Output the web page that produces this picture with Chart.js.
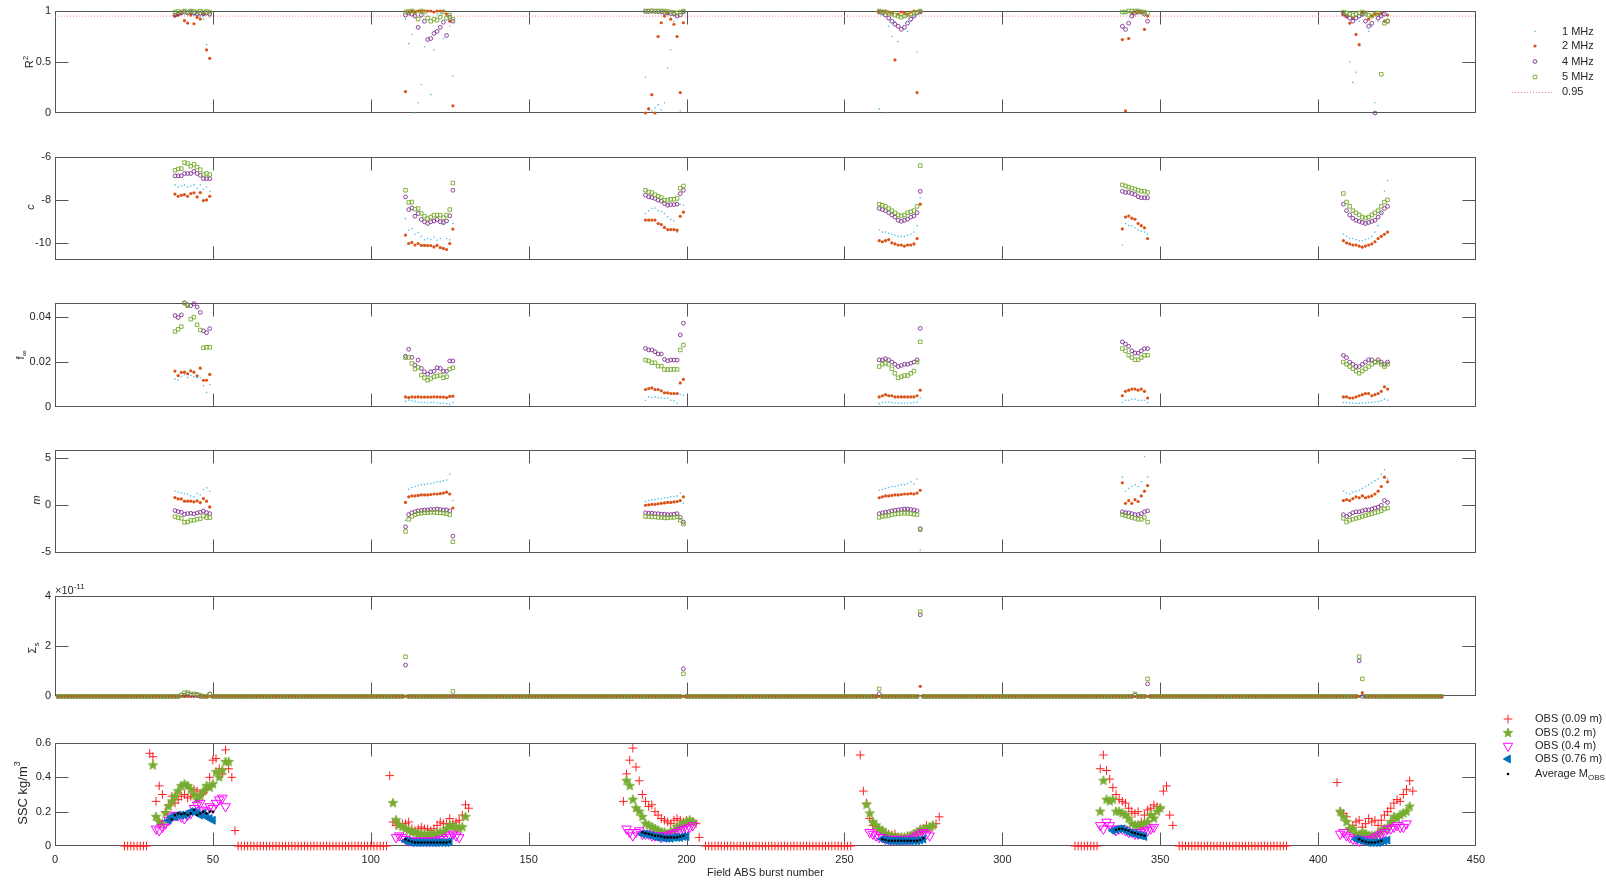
<!DOCTYPE html>
<html><head><meta charset="utf-8">
<script src="https://cdn.jsdelivr.net/npm/chart.js@4.4.1/dist/chart.umd.min.js"></script>
<style>
html,body{margin:0;padding:0;background:#fff;width:1606px;height:883px;overflow:hidden;}
.p{position:absolute;left:0;}
</style></head><body>
<script>
// ---------------- DATA ----------------
const xMin = 0, xMax = 450;
const xTicks = [0, 50, 100, 150, 200, 250, 300, 350, 400, 450];
const r2Ticks = [0, 0.5, 1];
const cTicks = [-10, -8, -6];
const fTicks = [0, 0.02, 0.04];
const mTicks = [-5, 0, 5];
const sigmaTicks = [0, 2, 4];          // units of 1e-11
const sscTicks = [0, 0.2, 0.4, 0.6];
const r2Threshold = 0.95;

// first burst of each inversion cluster (values follow consecutively)
const clusterStarts = [38, 111, 187, 261, 338, 408];

const r2_1MHz = [
 [0.97,0.98,0.97,0.99,0.97,0.98,0.96,0.97,0.95,0.92,0.67,0.94],
 [0.92,0.68,0.77,0.0,0.1,0.28,0.65,0.95,0.18,0.62,0.97,0.97,0.73,0.96,0.85,0.36],
 [0.35,0.05,0.02,0.05,0.08,0.03,0.1,0.44,0.62,0.9,0.97,0.02,0.98],
 [0.04,0.97,0.0,0.85,0.75,0.9,0.7,0.95,0.97,0.8,0.9,0.95,0.6,0.98],
 [0.97,0.98,0.99,0.99,1.0,0.99,0.98,0.97,0.95],
 [0.98,0.95,0.5,0.3,0.4,0.9,0.95,0.97,0.8,0.85,0.1,0.9,0.95,0.97,0.92]];
const r2_2MHz = [
 [0.95,0.96,0.975,0.905,0.882,0.96,0.875,0.938,0.922,0.968,0.618,0.536],
 [0.21,0.99,1.0,0.99,1.0,1.0,1.0,1.0,1.0,0.99,1.0,1.0,1.0,0.97,0.9,0.07],
 [0.0,0.04,0.18,0.0,0.75,0.885,0.95,0.98,0.92,0.87,0.75,0.2,0.885],
 [0.99,1.0,1.0,0.99,0.98,0.52,0.97,0.99,0.98,0.97,0.99,1.0,0.2,0.99],
 [0.72,0.02,0.73,0.98,0.99,0.99,0.99,0.82,0.95],
 [0.97,0.95,0.88,0.93,0.77,0.67,0.98,0.99,0.92,0.95,0.97,0.97,0.98,0.9,0.96]];
const r2_4MHz = [
 [0.96,0.97,0.98,0.99,0.98,0.99,0.98,0.97,0.98,0.97,0.98,0.97],
 [0.96,0.98,0.97,0.95,0.84,0.96,0.9,0.72,0.73,0.78,0.8,0.84,0.89,0.76,0.94,0.9],
 [0.995,0.995,1.0,0.995,0.995,0.99,0.985,0.98,0.975,0.97,0.95,0.96,0.99],
 [0.99,0.98,0.96,0.93,0.9,0.87,0.85,0.82,0.84,0.88,0.92,0.95,0.98,0.99],
 [0.85,0.82,0.88,0.95,0.98,0.99,0.99,0.97,0.9],
 [0.97,0.95,0.93,0.9,0.93,0.95,0.97,0.9,0.85,0.88,0.0,0.93,0.95,0.97,0.9]];
const r2_5MHz = [
 [0.99,0.995,0.99,1.0,0.99,1.0,0.995,0.99,1.0,0.99,0.995,0.99],
 [0.99,0.995,1.0,0.99,0.92,1.0,0.99,0.93,0.9,0.92,0.91,0.94,0.99,0.93,0.96,0.92],
 [1.0,1.0,1.0,1.0,1.0,1.0,1.0,0.995,0.99,0.985,0.98,0.99,1.0],
 [1.0,0.99,0.99,0.98,0.97,0.96,0.95,0.94,0.95,0.96,0.97,0.98,0.99,1.0],
 [0.99,0.99,1.0,1.0,1.0,1.0,0.99,0.99,0.98],
 [0.99,0.98,0.97,0.96,0.97,0.98,0.99,0.97,0.96,0.95,0.97,0.98,0.38,0.88,0.9]];

const c_1MHz = [
 [-7.3,-7.4,-7.35,-7.3,-7.4,-7.35,-7.3,-7.45,-7.3,-7.5,-7.4,-7.6],
 [-8.87,-9.41,-9.33,-9.6,-9.53,-9.7,-9.86,-9.8,-9.85,-9.74,-9.88,-9.8,-9.1,-9.8,-9.86,-9.1],
 [-8.63,-8.51,-8.4,-8.38,-8.51,-8.55,-8.63,-8.79,-8.91,-8.98,-9.5,-8.2,-8.25],
 [-9.4,-9.5,-9.5,-9.55,-9.6,-9.65,-9.7,-9.7,-9.7,-9.65,-9.6,-9.5,-9.2,-7.9],
 [-10.1,-9.1,-9.2,-9.2,-9.3,-9.4,-9.45,-9.5,-9.6],
 [-9.6,-9.7,-9.8,-9.8,-9.85,-9.9,-9.9,-9.85,-9.8,-9.7,-9.5,-9.2,-8.6,-7.6,-7.1]];
const c_2MHz = [
 [-7.73,-7.83,-7.78,-7.75,-7.83,-7.7,-7.67,-7.86,-7.66,-8.03,-8.0,-7.83],
 [-9.64,-10.03,-9.98,-10.1,-10.03,-10.12,-10.12,-10.13,-10.13,-10.19,-10.12,-10.22,-10.26,-10.31,-10.03,-9.36],
 [-8.94,-8.94,-8.94,-8.94,-9.1,-9.15,-9.28,-9.38,-9.38,-9.38,-9.41,-8.76,-8.57],
 [-9.9,-9.95,-9.9,-9.85,-10.0,-10.05,-10.1,-10.1,-10.15,-10.1,-10.1,-10.05,-9.8,-8.2],
 [-9.35,-8.8,-8.75,-8.85,-8.9,-9.1,-9.2,-9.3,-9.8],
 [-9.9,-10.0,-10.05,-10.1,-10.1,-10.15,-10.2,-10.15,-10.1,-10.05,-9.95,-9.8,-9.7,-9.6,-9.5]];
const c_4MHz = [
 [-6.88,-6.88,-6.88,-6.77,-6.77,-6.77,-6.67,-6.77,-6.85,-7.01,-7.01,-7.01],
 [-7.86,-8.45,-8.37,-8.76,-8.63,-8.91,-9.02,-9.1,-9.02,-8.98,-8.91,-9.02,-9.06,-8.98,-8.74,-7.55],
 [-7.78,-7.86,-7.89,-7.93,-8.01,-8.05,-8.17,-8.25,-8.22,-8.22,-8.2,-7.71,-7.55],
 [-8.4,-8.45,-8.5,-8.6,-8.7,-8.8,-8.95,-9.0,-8.95,-8.9,-8.8,-8.75,-8.6,-7.6],
 [-7.6,-7.65,-7.65,-7.7,-7.75,-7.85,-7.9,-7.9,-7.9],
 [-8.2,-8.5,-8.7,-8.85,-8.95,-9.0,-9.05,-9.1,-9.05,-9.0,-8.95,-8.8,-8.6,-8.4,-8.3]];
const c_5MHz = [
 [-6.62,-6.56,-6.54,-6.26,-6.31,-6.43,-6.34,-6.47,-6.59,-6.82,-6.77,-6.82],
 [-7.55,-8.12,-8.1,-8.43,-8.4,-8.63,-8.76,-8.87,-8.8,-8.71,-8.7,-8.71,-8.83,-8.71,-8.45,-7.21],
 [-7.55,-7.63,-7.66,-7.76,-7.83,-7.89,-8.01,-8.01,-7.97,-7.97,-7.93,-7.46,-7.35],
 [-8.2,-8.25,-8.3,-8.4,-8.5,-8.6,-8.7,-8.75,-8.7,-8.6,-8.55,-8.5,-8.3,-6.4],
 [-7.3,-7.35,-7.4,-7.45,-7.5,-7.55,-7.6,-7.6,-7.65],
 [-7.7,-8.1,-8.3,-8.5,-8.6,-8.7,-8.8,-8.85,-8.8,-8.7,-8.6,-8.5,-8.3,-8.1,-8.0]];

const f_1MHz = [
 [0.0125,0.012,0.0135,0.0145,0.0131,0.014,0.0135,0.013,0.013,0.0095,0.0064,0.010],
 [0.0025,0.003,0.0028,0.0025,0.0022,0.002,0.002,0.0018,0.002,0.002,0.0018,0.0016,0.0018,0.0015,0.0012,0.002],
 [0.003,0.0045,0.0042,0.0045,0.0041,0.0041,0.0039,0.0039,0.003,0.0028,0.0017,0.0057,0.0052],
 [0.0015,0.002,0.0022,0.0022,0.002,0.0018,0.0018,0.0017,0.0018,0.0018,0.0018,0.002,0.0022,0.004],
 [0.002,0.003,0.003,0.0035,0.0035,0.003,0.003,0.003,0.002],
 [0.002,0.002,0.0018,0.0018,0.0016,0.0016,0.0017,0.0018,0.002,0.002,0.0022,0.0024,0.0028,0.0035,0.003]];
const f_2MHz = [
 [0.016,0.014,0.0154,0.0155,0.0148,0.0161,0.0155,0.0139,0.0173,0.0119,0.0119,0.0145],
 [0.0045,0.0042,0.0045,0.0044,0.0045,0.0044,0.0044,0.0044,0.0044,0.0045,0.0045,0.0044,0.0044,0.0042,0.0047,0.0048],
 [0.0078,0.0082,0.0085,0.0078,0.0078,0.0072,0.0063,0.0063,0.006,0.006,0.006,0.0107,0.0123],
 [0.0045,0.005,0.0055,0.005,0.005,0.0045,0.0045,0.0045,0.0045,0.0045,0.0045,0.0045,0.005,0.0075],
 [0.005,0.007,0.0075,0.008,0.008,0.0075,0.008,0.007,0.004],
 [0.0045,0.0045,0.004,0.004,0.0045,0.005,0.0055,0.006,0.006,0.005,0.0055,0.006,0.007,0.009,0.008]];
const f_4MHz = [
 [0.0407,0.0398,0.041,0.0463,0.0455,0.0451,0.046,0.0445,0.0421,0.0339,0.0331,0.0349],
 [0.0226,0.0257,0.0221,0.0187,0.0209,0.0172,0.0157,0.0146,0.0157,0.0159,0.0175,0.0172,0.0159,0.0159,0.0205,0.0205],
 [0.0261,0.0254,0.0254,0.0246,0.0236,0.0236,0.0212,0.0206,0.0209,0.0209,0.0209,0.0321,0.0373],
 [0.021,0.021,0.0215,0.021,0.02,0.019,0.018,0.0185,0.019,0.019,0.0195,0.02,0.021,0.035],
 [0.029,0.028,0.027,0.025,0.024,0.024,0.025,0.026,0.026],
 [0.023,0.022,0.02,0.019,0.018,0.018,0.019,0.02,0.021,0.021,0.02,0.021,0.02,0.019,0.02]];
const f_5MHz = [
 [0.0336,0.0346,0.0358,0.0463,0.0451,0.0391,0.04,0.0366,0.0343,0.0264,0.0266,0.0266],
 [0.022,0.0221,0.0194,0.0169,0.0176,0.0142,0.013,0.0119,0.0127,0.0135,0.0138,0.0142,0.013,0.0135,0.0169,0.0175],
 [0.0209,0.0205,0.0197,0.0197,0.0182,0.0182,0.0167,0.0167,0.0167,0.0168,0.0167,0.0254,0.0276],
 [0.018,0.019,0.0195,0.019,0.017,0.015,0.013,0.0135,0.014,0.014,0.015,0.016,0.02,0.029],
 [0.026,0.025,0.023,0.022,0.021,0.021,0.022,0.023,0.023],
 [0.02,0.019,0.018,0.017,0.016,0.015,0.016,0.017,0.018,0.019,0.02,0.02,0.019,0.018,0.019]];

const m_1MHz = [
 [1.5,1.4,1.3,1.25,1.2,1.0,0.89,1.25,1.1,1.68,1.86,1.5],
 [-1.6,1.7,1.9,2.0,2.1,2.2,2.2,2.3,2.3,2.4,2.5,2.5,2.6,2.7,3.3,0.5],
 [0.4,0.5,0.6,0.6,0.7,0.7,0.8,0.8,0.9,0.9,1.0,1.3,0.2],
 [1.6,1.7,1.8,1.9,2.0,2.0,2.1,2.2,2.2,2.3,2.5,2.3,2.8,-4.8],
 [3.0,1.5,1.8,2.0,2.2,2.0,2.5,5.2,3.0],
 [1.5,1.3,1.2,1.4,1.5,1.6,1.8,2.0,2.2,2.4,2.6,2.8,3.3,3.8,2.8]];
const m_2MHz = [
 [0.82,0.68,0.68,0.43,0.43,0.43,0.36,0.46,0.29,0.71,0.43,-0.18],
 [0.3,0.9,1.0,1.0,1.05,1.1,1.1,1.1,1.15,1.2,1.2,1.25,1.3,1.4,1.2,-0.3],
 [0.0,0.05,0.1,0.1,0.15,0.2,0.25,0.3,0.3,0.35,0.4,0.5,0.9],
 [0.8,0.9,1.0,1.0,1.05,1.1,1.1,1.15,1.2,1.2,1.25,1.2,1.3,1.6],
 [2.4,0.2,0.5,0.2,0.6,0.4,1.0,1.5,2.1],
 [0.5,0.6,0.5,0.7,0.9,0.8,1.0,0.8,0.9,1.0,1.2,1.5,2.0,3.0,2.5]];
const m_4MHz = [
 [-0.57,-0.68,-0.75,-0.96,-0.89,-0.86,-0.93,-0.82,-0.75,-0.61,-0.79,-0.89],
 [-2.3,-1.0,-0.8,-0.7,-0.6,-0.55,-0.5,-0.5,-0.45,-0.45,-0.4,-0.45,-0.5,-0.5,-0.6,-3.3],
 [-0.8,-0.85,-0.85,-0.9,-0.9,-0.95,-0.95,-1.0,-1.0,-0.95,-0.9,-1.3,-1.8],
 [-0.9,-0.8,-0.75,-0.7,-0.6,-0.55,-0.5,-0.45,-0.4,-0.4,-0.45,-0.5,-0.6,-2.5],
 [-0.7,-0.8,-0.8,-0.9,-1.0,-1.0,-0.9,-0.7,-0.6],
 [-1.0,-1.2,-1.0,-0.8,-0.7,-0.7,-0.6,-0.5,-0.5,-0.4,-0.3,-0.2,0.0,0.5,0.3]];
const m_5MHz = [
 [-1.21,-1.32,-1.39,-1.82,-1.78,-1.61,-1.61,-1.5,-1.43,-1.14,-1.32,-1.32],
 [-2.8,-1.5,-1.2,-1.0,-0.9,-0.85,-0.8,-0.8,-0.75,-0.75,-0.8,-0.8,-0.85,-0.9,-1.0,-3.9],
 [-1.2,-1.2,-1.25,-1.25,-1.3,-1.3,-1.35,-1.35,-1.3,-1.3,-1.2,-1.6,-2.0],
 [-1.3,-1.2,-1.15,-1.1,-1.0,-0.95,-0.9,-0.85,-0.85,-0.85,-0.9,-0.95,-1.0,-2.6],
 [-1.0,-1.1,-1.2,-1.3,-1.4,-1.5,-1.5,-1.3,-1.8],
 [-1.4,-1.8,-1.6,-1.5,-1.4,-1.3,-1.2,-1.1,-1.0,-0.9,-0.8,-0.7,-0.6,-0.4,-0.3]];

// Sigma_s (x 1e-11) in the clusters; every other burst in sigmaZeroRange is 0
const sigmaZeroRange = [1, 439];
const s_1MHz = [
 [0,0,0,0,0,0,0,0,0,0,0,0],
 [0,0,0,0,0,0,0,0,0,0,0,0,0,0,0,0],
 [0,0,0,0,0,0,0,0,0,0,0,0,0],
 [0,0,0,0,0,0,0,0,0,0,0,0,0,0],
 [0,0,0,0,0,0,0,0,0],
 [0,0,0,0,0,0,0,0,0,0,0,0,0,0,0]];
const s_2MHz = [
 [0,0,0,0,0,0,0,0,0,0,0,0],
 [0,0,0,0,0,0,0,0,0,0,0,0,0,0,0,0],
 [0,0,0,0,0,0,0,0,0,0,0,0,0],
 [0,0,0,0,0,0,0,0,0,0,0,0,0,0.4],
 [0,0,0,0,0,0,0,0,0],
 [0,0,0,0,0,0,0.15,0,0,0,0,0,0,0,0]];
const s_4MHz = [
 [0,0,0.05,0.05,0.1,0.05,0.05,0.05,0,0,0,0.1],
 [1.25,0,0,0,0,0,0,0,0,0,0,0,0,0,0,0],
 [0,0,0,0,0,0,0,0,0,0,0,0,1.1],
 [0.1,0,0,0,0,0,0,0,0,0,0,0,0,3.25],
 [0,0,0,0,0.05,0,0,0,0.5],
 [0,0,0,0,0,1.42,0,0,0,0,0,0,0,0,0]];
const s_5MHz = [
 [0,0,0.05,0.15,0.15,0.1,0.1,0.08,0.05,0,0,0.08],
 [1.58,0,0,0,0,0,0,0,0,0,0,0,0,0,0,0.2],
 [0,0,0,0,0,0,0,0,0,0,0,0,0.9],
 [0.3,0,0,0,0,0,0,0,0,0,0,0,0,3.37],
 [0,0,0,0,0.1,0,0,0,0.7],
 [0,0,0,0,0,1.58,0.7,0,0,0,0,0,0,0,0]];

// SSC (kg/m3)
const obs009Starts = [30, 106, 180, 255, 331, 406];
const obs009Values = [
 [0.54,0.52,0.26,0.35,0.30,0.20,0.24,0.29,0.25,0.27,0.29,0.30,0.28,0.29,0.33,0.32,0.30,0.31,0.33,0.40,0.50,0.51,0.45,0.42,0.56,0.45,0.40,0.09],
 [0.41,0.14,0.12,0.13,0.13,0.13,0.14,0.10,0.09,0.10,0.11,0.10,0.10,0.09,0.10,0.12,0.14,0.13,0.13,0.16,0.13,0.14,0.15,0.18,0.24,0.22],
 [0.26,0.42,0.50,0.57,0.46,0.38,0.30,0.26,0.23,0.24,0.20,0.18,0.16,0.15,0.14,0.13,0.15,0.16,0.15,0.14,0.15,0.14,0.14,0.13,0.05],
 [0.53,0.32,0.25,0.16,0.12,0.11,0.10,0.09,0.08,0.07,0.06,0.07,0.05,0.05,0.05,0.06,0.05,0.06,0.07,0.10,0.09,0.12,0.11,0.11,0.13,0.17],
 [0.45,0.53,0.44,0.39,0.34,0.30,0.27,0.26,0.25,0.22,0.20,0.19,0.20,0.14,0.18,0.21,0.22,0.24,0.23,0.22,0.32,0.35,0.18,0.12],
 [0.37,0.20,0.19,0.17,0.10,0.12,0.14,0.15,0.11,0.13,0.16,0.14,0.15,0.12,0.15,0.18,0.20,0.22,0.25,0.27,0.26,0.30,0.33,0.38,0.32]];
const obs009ZeroRanges = [[22, 29], [58, 105], [206, 252], [323, 330], [356, 390]];

const obs02Starts = [31, 107, 181, 257, 331, 407];
const obs02Values = [
 [0.47,0.17,0.14,0.13,0.19,0.23,0.26,0.29,0.32,0.35,0.36,0.35,0.33,0.30,0.27,0.29,0.32,0.35,0.34,0.36,0.43,0.40,0.44,0.49,0.49],
 [0.25,0.15,0.12,0.11,0.10,0.09,0.08,0.08,0.07,0.07,0.07,0.06,0.07,0.07,0.07,0.08,0.08,0.10,0.12,0.11,0.11,0.10,0.11,0.17],
 [0.38,0.35,0.27,0.22,0.20,0.17,0.13,0.12,0.11,0.10,0.09,0.08,0.08,0.07,0.08,0.09,0.11,0.12,0.13,0.14,0.15,0.14],
 [0.24,0.19,0.14,0.12,0.10,0.09,0.07,0.06,0.06,0.05,0.05,0.05,0.05,0.05,0.06,0.07,0.08,0.09,0.10,0.10,0.11,0.12],
 [0.20,0.38,0.27,0.26,0.27,0.20,0.20,0.19,0.18,0.16,0.13,0.12,0.12,0.12,0.13,0.14,0.18,0.16,0.20,0.22],
 [0.20,0.17,0.14,0.10,0.10,0.07,0.06,0.08,0.07,0.06,0.06,0.06,0.07,0.09,0.10,0.11,0.14,0.17,0.16,0.18,0.19,0.20,0.23]];

const obs04Starts = [32, 108, 181, 258, 331, 407];
const obs04Values = [
 [0.10,0.09,0.11,0.13,0.15,0.17,0.18,0.18,0.17,0.16,0.18,0.19,0.22,0.24,0.25,0.21,0.20,0.23,0.22,0.25,0.27,0.28,0.23],
 [0.05,0.06,0.05,0.04,0.03,0.03,0.03,0.03,0.03,0.03,0.03,0.03,0.03,0.03,0.04,0.04,0.05,0.06,0.07,0.06,0.05],
 [0.10,0.08,0.06,0.08,0.09,0.07,0.07,0.07,0.06,0.06,0.06,0.05,0.06,0.06,0.07,0.07,0.08,0.09,0.10,0.10,0.11,0.12],
 [0.08,0.07,0.06,0.05,0.05,0.04,0.04,0.04,0.04,0.04,0.04,0.04,0.04,0.04,0.05,0.06,0.07,0.08,0.07,0.06],
 [0.12,0.10,0.14,0.12,0.10,0.09,0.10,0.10,0.09,0.08,0.08,0.07,0.07,0.08,0.09,0.09,0.10,0.11],
 [0.07,0.08,0.06,0.05,0.04,0.04,0.03,0.04,0.04,0.03,0.04,0.05,0.06,0.07,0.08,0.10,0.10,0.11,0.12,0.11,0.11,0.13]];

const obs076Starts = [36, 111, 186, 262, 335, 412];
const obs076Values = [
 [0.15,0.17,0.17,0.18,0.18,0.18,0.19,0.20,0.20,0.19,0.18,0.19,0.17,0.16,0.15],
 [0.03,0.025,0.02,0.02,0.02,0.02,0.02,0.02,0.02,0.02,0.02,0.02,0.02,0.02,0.025],
 [0.07,0.07,0.065,0.06,0.055,0.05,0.05,0.045,0.045,0.045,0.05,0.05,0.05,0.055,0.055],
 [0.04,0.035,0.03,0.03,0.03,0.03,0.03,0.03,0.03,0.03,0.03,0.03,0.035,0.04],
 [0.09,0.095,0.10,0.10,0.09,0.08,0.075,0.07,0.065,0.06,0.055],
 [0.04,0.035,0.03,0.025,0.02,0.02,0.02,0.02,0.025,0.03,0.035]];

const avgMStarts = [37, 111, 186, 262, 336, 413];
const avgMValues = [
 [0.155,0.18,0.19,0.185,0.19,0.18,0.19,0.21,0.18,0.19,0.20,0.19,0.20,0.20],
 [0.04,0.03,0.025,0.02,0.02,0.02,0.02,0.02,0.02,0.02,0.02,0.02,0.02,0.02,0.025],
 [0.08,0.075,0.07,0.065,0.06,0.06,0.055,0.05,0.05,0.05,0.05,0.05,0.055,0.06],
 [0.04,0.035,0.03,0.03,0.03,0.03,0.03,0.03,0.03,0.03,0.03,0.03,0.035,0.045],
 [0.095,0.10,0.10,0.095,0.09,0.08,0.075,0.07,0.065,0.06],
 [0.04,0.03,0.025,0.02,0.02,0.02,0.025,0.03]];

// ---------------- RENDERING ----------------
const FONT = '"Liberation Sans", Arial, Helvetica, sans-serif';
const TEXT = '#262626';
const AXIS = '#555555';
const W = 1606, PLOT_LEFT = 55, PLOT_RIGHT = 1476, TICK = 13;
Chart.defaults.font.family = FONT;
Chart.defaults.font.size = 11;
Chart.defaults.color = TEXT;

function clusterPoints(starts, values) {
  const pts = [];
  values.forEach((arr, k) => arr.forEach((v, i) => { if (v !== null) pts.push({x: starts[k] + i, y: v}); }));
  return pts;
}
function zeroPoints(ranges) {
  const pts = [];
  ranges.forEach(([a, b]) => { for (let x = a; x <= b; x++) pts.push({x, y: 0}); });
  return pts;
}
function sigmaPoints(values) {
  const pts = clusterPoints(clusterStarts, values);
  const covered = new Set(pts.map(p => p.x));
  for (let b = sigmaZeroRange[0]; b <= sigmaZeroRange[1]; b++) if (!covered.has(b)) pts.push({x: b, y: 0});
  return pts;
}

const freqStyles = [
  {label: '1 MHz', color: '#4DBEEE', style: 'circle', r: 0.8, fill: true,  bw: 0,   order: 3},
  {label: '2 MHz', color: '#D95319', style: 'circle', r: 1.6, fill: true,  bw: 0,   order: 2},
  {label: '4 MHz', color: '#7E2F8E', style: 'circle', r: 1.9, fill: false, bw: 0.9, order: 1},
  {label: '5 MHz', color: '#77AC30', style: 'rect',   r: 2.5, fill: false, bw: 0.9, order: 0}
];
function freqDatasets(series, fn) {
  return series.map((vals, i) => {
    const s = freqStyles[i];
    return {label: s.label, data: fn(vals), pointStyle: s.style, pointRadius: s.r,
      backgroundColor: s.fill ? s.color : 'rgba(0,0,0,0)', borderColor: s.color,
      pointBorderWidth: s.bw, borderWidth: s.bw, order: s.order, clip: false, showLine: false};
  });
}

function starCanvas(r, color) {
  const c = document.createElement('canvas');
  const s = Math.ceil(r * 2 + 2); c.width = c.height = s;
  const g = c.getContext('2d');
  g.fillStyle = color; g.strokeStyle = color; g.lineWidth = 0.8; g.beginPath();
  for (let i = 0; i < 10; i++) {
    const a = -Math.PI / 2 + i * Math.PI / 5, rr = i % 2 ? r * 0.42 : r;
    g.lineTo(s / 2 + rr * Math.cos(a), s / 2 + rr * Math.sin(a));
  }
  g.closePath(); g.fill(); g.stroke();
  return c;
}
const STAR = starCanvas(5, '#77AC30');

function drawRich(ctx, segs, x, y, size, rotate, align) {
  ctx.save(); ctx.translate(x, y); if (rotate) ctx.rotate(-Math.PI / 2);
  const parts = segs.map(s => {
    const fs = (s.sub || s.sup) ? Math.round(size * 0.72) : size;
    const font = (s.italic ? 'italic ' : '') + fs + 'px ' + FONT;
    ctx.font = font;
    return {t: s.t, font, w: ctx.measureText(s.t).width, dy: s.sup ? -size * 0.42 : (s.sub ? size * 0.32 : 0)};
  });
  const total = parts.reduce((a, p) => a + p.w, 0);
  let cx = align === 'left' ? 0 : -total / 2;
  ctx.fillStyle = TEXT; ctx.textBaseline = 'middle'; ctx.textAlign = 'left';
  parts.forEach(p => { ctx.font = p.font; ctx.fillText(p.t, cx, p.dy); cx += p.w; });
  ctx.restore();
}

function framePlugin() {
  return {
    id: 'frame',
    beforeDatasetsDraw(chart) {
      const {ctx, chartArea: a, scales} = chart;
      const L = Math.round(a.left) + 0.5, R = Math.round(a.right) - 0.5, T = Math.round(a.top) + 0.5, B = Math.round(a.bottom) - 0.5;
      ctx.save(); ctx.strokeStyle = AXIS; ctx.lineWidth = 1;
      ctx.strokeRect(L, T, R - L, B - T);
      ctx.beginPath();
      xTicks.forEach(v => {
        const x = Math.round(scales.x.getPixelForValue(v)) + 0.5;
        if (x > L + 2 && x < R - 2) { ctx.moveTo(x, B); ctx.lineTo(x, B - TICK); ctx.moveTo(x, T); ctx.lineTo(x, T + TICK); }
      });
      scales.y.ticks.forEach(t => {
        const y = Math.round(scales.y.getPixelForValue(t.value)) + 0.5;
        if (y > T + 2 && y < B - 2) { ctx.moveTo(L, y); ctx.lineTo(L + TICK, y); ctx.moveTo(R, y); ctx.lineTo(R - TICK, y); }
      });
      ctx.stroke(); ctx.restore();
    }
  };
}

function makePanel(p) {
  const div = document.createElement('div'); div.className = 'p'; div.style.top = p.top + 'px';
  const cv = document.createElement('canvas'); cv.width = W; cv.height = p.height;
  cv.style.width = W + 'px'; cv.style.height = p.height + 'px';
  div.appendChild(cv); document.body.appendChild(div);
  const xOpts = p.showX ? {
    type: 'linear', min: xMin, max: xMax,
    grid: {display: false, drawTicks: false}, border: {display: false},
    afterBuildTicks(s) { s.ticks = xTicks.map(v => ({value: v})); },
    afterFit(s) { s.height = 37; },
    ticks: {padding: 7, autoSkip: false, maxRotation: 0, color: TEXT, font: {size: 11}, callback: v => String(v)},
    title: {display: true, text: 'Field ABS burst number', color: TEXT, font: {size: 11}, padding: {top: 0, bottom: 3}}
  } : {type: 'linear', display: false, min: xMin, max: xMax};
  const titlePlugin = {
    id: 'ytitle',
    afterDraw(chart) {
      const ctx = chart.ctx;
      drawRich(ctx, p.title, p.titleX, p.titleY - p.top, p.titleSize || 11, true);
      if (p.extraDraw) p.extraDraw(ctx, p.top);
    }
  };
  return new Chart(cv, {
    type: 'scatter',
    data: {datasets: p.datasets},
    options: {
      responsive: false, animation: false, devicePixelRatio: 1, events: [],
      layout: {padding: {left: 0, right: W - PLOT_RIGHT, top: p.padTop, bottom: p.padBottom}},
      scales: {
        x: xOpts,
        y: {type: 'linear', min: p.yMin, max: p.yMax,
          grid: {display: false, drawTicks: false}, border: {display: false},
          afterFit(s) { s.width = PLOT_LEFT; },
          afterBuildTicks(s) { s.ticks = p.yTicks.map(v => ({value: v})); },
          ticks: {padding: 4, color: TEXT, font: {size: 11}, autoSkip: false, callback: v => String(v)}}
      },
      plugins: {legend: {display: false}, tooltip: {enabled: false}}
    },
    plugins: [framePlugin(), titlePlugin]
  });
}

function legendMarker(ctx, opts, x, y) {
  ctx.save();
  ctx.fillStyle = opts.fill || 'rgba(0,0,0,0)';
  ctx.strokeStyle = opts.stroke || 'rgba(0,0,0,0)';
  ctx.lineWidth = opts.borderWidth || 0;
  Chart.helpers.drawPoint(ctx, {pointStyle: opts.pointStyle, rotation: opts.rotation || 0, radius: opts.radius, borderWidth: opts.borderWidth || 0}, x, y);
  ctx.restore();
}

// Panel 1: R^2
const r2Datasets = freqDatasets([r2_1MHz, r2_2MHz, r2_4MHz, r2_5MHz], v => clusterPoints(clusterStarts, v));
r2Datasets.push({label: '0.95', data: [{x: xMin, y: r2Threshold}, {x: xMax, y: r2Threshold}], showLine: true,
  borderColor: '#ff8080', borderWidth: 1, borderDash: [1, 2], pointRadius: 0, order: 9, clip: false});
makePanel({top: 0, height: 128, padTop: 11, padBottom: 15, yMin: 0, yMax: 1, yTicks: r2Ticks,
  datasets: r2Datasets, title: [{t: 'R'}, {t: '2', sup: true}], titleX: 30, titleY: 62,
  extraDraw(ctx) {
    const ys = [31.5, 46, 61.5, 77];
    freqStyles.forEach((s, i) => {
      legendMarker(ctx, {pointStyle: s.style, radius: s.r, fill: s.fill ? s.color : null, stroke: s.color, borderWidth: s.bw}, 1535, ys[i]);
      drawRich(ctx, [{t: s.label}], 1562, ys[i], 11, false, 'left');
    });
    ctx.save(); ctx.strokeStyle = '#ff8080'; ctx.lineWidth = 1; ctx.setLineDash([1, 2]);
    ctx.beginPath(); ctx.moveTo(1512, 92.5); ctx.lineTo(1553, 92.5); ctx.stroke(); ctx.restore();
    drawRich(ctx, [{t: '0.95'}], 1562, 92, 11, false, 'left');
  }});

// Panel 2: c
makePanel({top: 145, height: 127, padTop: 12, padBottom: 12, yMin: -10.8, yMax: -6, yTicks: cTicks,
  datasets: freqDatasets([c_1MHz, c_2MHz, c_4MHz, c_5MHz], v => clusterPoints(clusterStarts, v)),
  title: [{t: 'c', italic: true}], titleX: 31, titleY: 207});

// Panel 3: f_inf
makePanel({top: 291, height: 128, padTop: 12, padBottom: 12, yMin: 0, yMax: 0.0463, yTicks: fTicks,
  datasets: freqDatasets([f_1MHz, f_2MHz, f_4MHz, f_5MHz], v => clusterPoints(clusterStarts, v)),
  title: [{t: 'f'}, {t: '\u221E', sub: true}], titleX: 21, titleY: 355});

// Panel 4: m
makePanel({top: 438, height: 127, padTop: 12, padBottom: 12, yMin: -5.1, yMax: 5.9, yTicks: mTicks,
  datasets: freqDatasets([m_1MHz, m_2MHz, m_4MHz, m_5MHz], v => clusterPoints(clusterStarts, v)),
  title: [{t: 'm', italic: true}], titleX: 37, titleY: 500});

// Panel 5: Sigma_s
makePanel({top: 580, height: 127, padTop: 16, padBottom: 8, yMin: 0, yMax: 4, yTicks: sigmaTicks,
  datasets: freqDatasets([s_1MHz, s_2MHz, s_4MHz, s_5MHz], sigmaPoints),
  title: [{t: '\u03A3'}, {t: 's', sub: true}], titleX: 33, titleY: 648,
  extraDraw(ctx) { drawRich(ctx, [{t: '\u00D710'}, {t: '-11', sup: true}], 55, 11, 11, false, 'left'); }});

// Panel 6: SSC
const sscStyles = [
  {label: 'OBS (0.09 m)', data: [...clusterPoints(obs009Starts, obs009Values), ...zeroPoints(obs009ZeroRanges)],
   pointStyle: 'cross', pointRadius: 4.3, borderColor: '#FF2020', backgroundColor: '#FF2020', pointBorderWidth: 1, order: 4},
  {label: 'OBS (0.2 m)', data: clusterPoints(obs02Starts, obs02Values),
   pointStyle: STAR, pointRadius: 5, borderColor: '#77AC30', backgroundColor: '#77AC30', pointBorderWidth: 0, order: 3},
  {label: 'OBS (0.4 m)', data: clusterPoints(obs04Starts, obs04Values),
   pointStyle: 'triangle', pointRotation: 180, pointRadius: 5.5, borderColor: '#FF00FF', backgroundColor: 'rgba(0,0,0,0)', pointBorderWidth: 1, order: 2},
  {label: 'OBS (0.76 m)', data: clusterPoints(obs076Starts, obs076Values),
   pointStyle: 'triangle', pointRotation: -90, pointRadius: 4.6, borderColor: '#0072BD', backgroundColor: '#0072BD', pointBorderWidth: 1, order: 1},
  {label: 'Average M_OBS', data: clusterPoints(avgMStarts, avgMValues),
   pointStyle: 'circle', pointRadius: 1.3, borderColor: '#000000', backgroundColor: '#000000', pointBorderWidth: 0, order: 0}
];
sscStyles.forEach(d => { d.clip = false; d.showLine = false; });
makePanel({top: 705, height: 178, padTop: 38, padBottom: 0, yMin: 0, yMax: 0.6, yTicks: sscTicks, showX: true,
  datasets: sscStyles, title: [{t: 'SSC kg/m'}, {t: '3', sup: true}], titleX: 23, titleY: 793, titleSize: 13,
  extraDraw(ctx, top) {
    const ys = [719, 733, 746, 759, 774];
    sscStyles.forEach((d, i) => {
      const y = ys[i] - top;
      legendMarker(ctx, {pointStyle: d.pointStyle, rotation: d.pointRotation || 0, radius: d.pointRadius,
        fill: d.backgroundColor, stroke: d.borderColor, borderWidth: d.pointBorderWidth}, 1508, y);
      const segs = i === 4 ? [{t: 'Average M'}, {t: 'OBS', sub: true}] : [{t: d.label}];
      drawRich(ctx, segs, 1535, y, 11, false, 'left');
    });
  }});
</script>
</body></html>
